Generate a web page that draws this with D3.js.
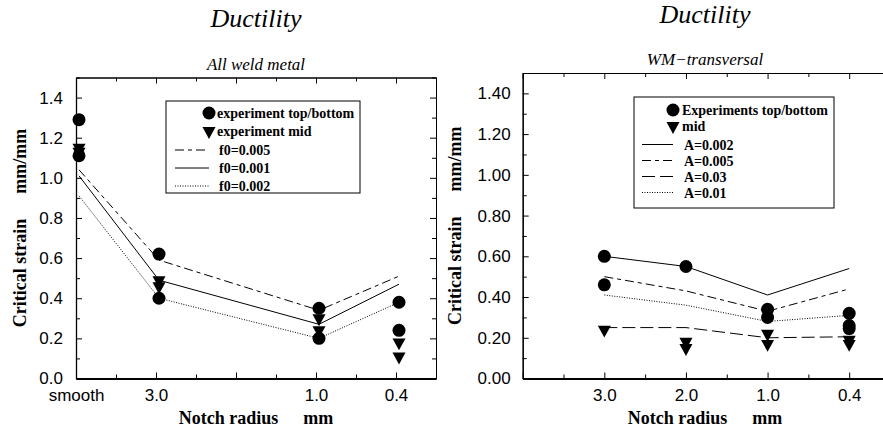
<!DOCTYPE html>
<html>
<head>
<meta charset="utf-8">
<script src="https://cdn.jsdelivr.net/npm/d3@7"></script>
<style>
  body { margin: 0; background: #fff; }
  svg { display: block; background: #fff; }
  .tick text { font-family: "Liberation Sans", Arial, sans-serif; font-size: 17px; fill: #000; }
  .serif { font-family: "Liberation Serif", "Times New Roman", serif; fill: #000; }
</style>
</head>
<body>
<svg width="883" height="432"></svg>
<script>
// Données
// Panneau gauche : All weld metal
const leftCats = ["smooth", "3.0", "1.0", "0.4"];
const leftPos = [0, 2, 6, 8];
const leftTopBottom = [[1.29, 1.11], [0.62, 0.40], [0.35, 0.20], [0.38, 0.24]];
const leftMid = [[1.15, 1.13], [0.49, 0.46], [0.30, 0.24], [0.18, 0.11]];
const leftSeriesNames = ["f0=0.005", "f0=0.001", "f0=0.002"];
const leftSeries = [
  [1.04, 0.59, 0.34, 0.51],
  [1.01, 0.49, 0.27, 0.47],
  [0.91, 0.40, 0.20, 0.38]
];

// Panneau droit : WM-transversal
const rightCats = ["3.0", "2.0", "1.0", "0.4"];
const rightPos = [2, 4, 6, 8];
const rightTopBottom = [[0.60, 0.46], [0.55], [0.34, 0.30], [0.32, 0.26, 0.245]];
const rightMid = [[0.24], [0.18, 0.15], [0.22, 0.17], [0.19, 0.17]];
const rightSeriesNames = ["A=0.002", "A=0.005", "A=0.03", "A=0.01"];
const rightSeries = [
  [0.60, 0.55, 0.41, 0.54],
  [0.50, 0.43, 0.33, 0.44],
  [0.25, 0.25, 0.20, 0.205],
  [0.41, 0.36, 0.28, 0.31]
];

const svg = d3.select("svg");

// triangle pointe en bas (centre = centre de gravité)
const triDown = {
  draw(ctx, w) {
    const h = w * 0.92;
    ctx.moveTo(-w / 2, -h / 3);
    ctx.lineTo(w / 2, -h / 3);
    ctx.lineTo(0, 2 * h / 3);
    ctx.closePath();
  }
};
const circleSym = d3.symbol(d3.symbolCircle, Math.PI * 6.5 * 6.5)();
const triSym = d3.symbol(triDown, 13)();

function drawPanel(p) {
  const x = d3.scaleLinear().domain([0, 9]).range(p.xRange);
  const y = d3.scaleLinear().domain([0, 1.5]).range(p.yRange);
  const g = svg.append("g");
  const x0 = x(0), x1 = x(9), y0 = y(0), y1 = y(1.5);

  const xMajor = [0, 2, 4, 6, 8], xMinor = [1, 3, 5, 7, 9];
  const yMajor = d3.range(0, 8).map(d => +(d * 0.2).toFixed(1));
  const yMinor = d3.range(0, 8).map(d => +(d * 0.2 + 0.1).toFixed(1));

  // graduations mineures (sans texte)
  g.append("g").attr("transform", `translate(0,${y0})`)
    .call(d3.axisBottom(x).tickValues(xMinor).tickSizeInner(-4).tickSizeOuter(0).tickFormat(""));
  g.append("g").attr("transform", `translate(0,${y1})`)
    .call(d3.axisTop(x).tickValues(xMinor).tickSizeInner(-4).tickSizeOuter(0).tickFormat(""));
  g.append("g").attr("transform", `translate(${x0},0)`)
    .call(d3.axisLeft(y).tickValues(yMinor).tickSizeInner(-4).tickSizeOuter(0).tickFormat(""));
  g.append("g").attr("transform", `translate(${x1},0)`)
    .call(d3.axisRight(y).tickValues(yMinor).tickSizeInner(-4).tickSizeOuter(0).tickFormat(""));

  // graduations majeures
  const labelOf = d => { const i = p.pos.indexOf(d); return i >= 0 ? p.cats[i] : ""; };
  const bottom = g.append("g").attr("transform", `translate(0,${y0})`)
    .call(d3.axisBottom(x).tickValues(xMajor).tickSizeInner(-6).tickSizeOuter(0).tickPadding(10.5).tickFormat(labelOf));
  g.append("g").attr("transform", `translate(0,${y1})`)
    .call(d3.axisTop(x).tickValues(xMajor).tickSizeInner(-6).tickSizeOuter(0).tickFormat(""));
  const left = g.append("g").attr("transform", `translate(${x0},0)`)
    .call(d3.axisLeft(y).tickValues(yMajor).tickSizeInner(-6).tickSizeOuter(0).tickPadding(p.yPad).tickFormat(d3.format(p.yFmt)));
  g.append("g").attr("transform", `translate(${x1},0)`)
    .call(d3.axisRight(y).tickValues(yMajor).tickSizeInner(-6).tickSizeOuter(0).tickFormat(""));

  g.selectAll(".domain").attr("stroke", "#000").attr("stroke-width", 1);
  g.selectAll(".tick line").attr("stroke", "#000");
  bottom.select(".domain").attr("stroke-width", 2);
  left.select(".domain").attr("stroke-width", 1.3);

  // courbes de simulation
  const line = d3.line().x((d, i) => x(p.pos[i]) + p.shift).y(d => y(d));
  p.series.forEach((s, k) => {
    g.append("path").datum(s)
      .attr("d", line)
      .attr("fill", "none")
      .attr("stroke", "#000")
      .attr("stroke-width", 1)
      .attr("stroke-dasharray", p.dashes[k]);
  });

  // points expérimentaux
  const pts = (arr, sym) => arr.forEach((vals, i) => vals.forEach(v => {
    g.append("path").attr("d", sym).attr("fill", "#000")
      .attr("transform", `translate(${x(p.pos[i]) + p.shift},${y(v)})`);
  }));
  pts(p.topBottom, circleSym);
  pts(p.mid, triSym);

  // titres
  g.append("text").attr("class", "serif").attr("x", p.titleX).attr("y", p.titleY)
    .attr("text-anchor", "middle").style("font-size", "26px").style("font-style", "italic")
    .text("Ductility");
  g.append("text").attr("class", "serif").attr("x", p.titleX).attr("y", p.subY)
    .attr("text-anchor", "middle").style("font-size", "17px").style("font-style", "italic")
    .text(p.subtitle);

  const xt = g.append("text").attr("class", "serif").attr("x", p.titleX).attr("y", 424)
    .attr("text-anchor", "middle").style("font-size", "18px").style("font-weight", "bold");
  xt.append("tspan").text("Notch radius");
  xt.append("tspan").attr("dx", 25).text("mm");

  const yt = g.append("text").attr("class", "serif")
    .attr("transform", `translate(${p.yTitleX},${(y0 + y1) / 2}) rotate(-90)`)
    .attr("text-anchor", "middle").style("font-size", "18px").style("font-weight", "bold");
  yt.append("tspan").text("Critical strain");
  yt.append("tspan").attr("dx", 25).text("mm/mm");

  // légende
  const L = p.legend;
  const lg = g.append("g");
  lg.append("rect").attr("x", L.x).attr("y", L.y).attr("width", L.w).attr("height", L.h)
    .attr("fill", "#fff").attr("stroke", "#000").attr("stroke-width", 1);
  L.items.forEach((it, i) => {
    const cy = L.rows[i];
    if (it.type === "circle") {
      lg.append("path").attr("d", circleSym).attr("transform", `translate(${L.mx},${cy})`);
    } else if (it.type === "tri") {
      lg.append("path").attr("d", triSym).attr("transform", `translate(${L.mx},${cy})`);
    } else {
      lg.append("line").attr("x1", L.lx0).attr("x2", L.mx).attr("y1", cy).attr("y2", cy)
        .attr("stroke", "#000").attr("stroke-width", 1).attr("stroke-dasharray", it.dash);
    }
    lg.append("text").attr("class", "serif").attr("x", it.type === "line" ? L.tx + 2 : L.tx).attr("y", cy + 5)
      .style("font-size", "14px").style("font-weight", "bold").text(it.label);
  });
}

const leftDashes = ["9,4,4,4", null, "1,1.5"];
drawPanel({
  xRange: [76, 436], yRange: [378.5, 77.5],
  cats: leftCats, pos: leftPos, shift: 3,
  topBottom: leftTopBottom, mid: leftMid,
  series: leftSeries, dashes: leftDashes,
  yFmt: ".1f", yPad: 13,
  titleX: 256, titleY: 27, subY: 70, subtitle: "All weld metal",
  yTitleX: 26,
  legend: {
    x: 166, y: 101, w: 194, h: 92, mx: 209, lx0: 175, tx: 217,
    rows: [113, 131, 150, 168, 186],
    items: [
      { type: "circle", label: "experiment top/bottom" },
      { type: "tri", label: "experiment mid" }
    ].concat(leftSeriesNames.map((n, k) => ({ type: "line", label: n, dash: leftDashes[k] })))
  }
});

const rightDashes = [null, "9,4,4,4", "13,5", "1,1.5"];
drawPanel({
  xRange: [522.7, 890], yRange: [378.5, 73],
  cats: rightCats, pos: rightPos, shift: 0,
  topBottom: rightTopBottom, mid: rightMid,
  series: rightSeries, dashes: rightDashes,
  yFmt: ".2f", yPad: 12,
  titleX: 705, titleY: 23, subY: 65, subtitle: "WM\u2212transversal",
  yTitleX: 461,
  legend: {
    x: 634, y: 97, w: 200, h: 111, mx: 673, lx0: 642, tx: 682,
    rows: [110, 126, 144.5, 160.5, 176.5, 192.5],
    items: [
      { type: "circle", label: "Experiments top/bottom" },
      { type: "tri", label: "mid" }
    ].concat(rightSeriesNames.map((n, k) => ({ type: "line", label: n, dash: rightDashes[k] })))
  }
});
</script>
</body>
</html>
